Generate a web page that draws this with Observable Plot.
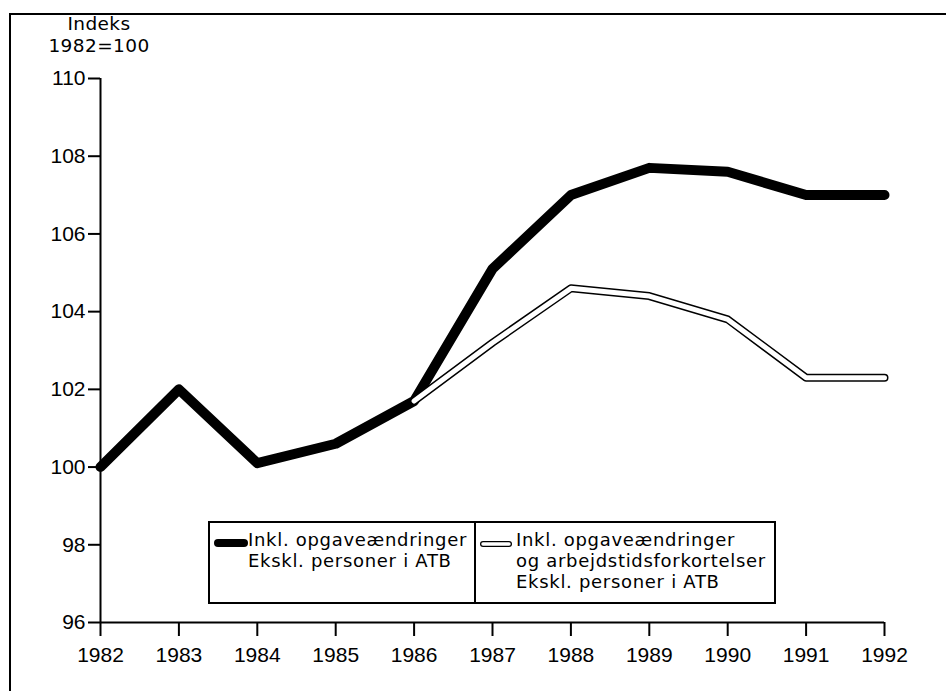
<!DOCTYPE html>
<html><head><meta charset="utf-8">
<script src="https://cdn.jsdelivr.net/npm/d3@7"></script>
<script src="https://cdn.jsdelivr.net/npm/@observablehq/plot@0.6"></script>
<style>
body{margin:0;background:#fff;}
#wrap{position:relative;width:946px;height:691px;overflow:hidden;font-family:"Liberation Sans",Arial,sans-serif;color:#000;}
#frame{position:absolute;left:9px;top:13px;width:2000px;height:2000px;border-left:2px solid #000;border-top:2px solid #000;}
#chart{position:absolute;left:0;top:0;}
.title{position:absolute;width:160px;left:19px;text-align:center;font-family:"DejaVu Sans",sans-serif;font-size:18.5px;line-height:22px;height:22px;letter-spacing:0.4px;}
#legend{position:absolute;left:208px;top:521px;width:564px;height:79px;border:2px solid #000;background:#fff;font-family:"DejaVu Sans",sans-serif;font-size:18px;line-height:21px;letter-spacing:0.7px;}
#legend .div{position:absolute;left:264px;top:0;width:2px;height:79px;background:#000;}
#legend .t{position:absolute;white-space:nowrap;}
#legend svg{position:absolute;}
</style></head>
<body>
<div id="wrap">
  <div id="frame"></div>
  <div id="chart"></div>
  <div class="title" id="t1" style="top:13px"></div>
  <div class="title" id="t2" style="top:35px"></div>
  <div id="legend"></div>
</div>
<script>
const years = [1982,1983,1984,1985,1986,1987,1988,1989,1990,1991,1992];
const inklOpgave = [100.0,102.0,100.1,100.6,101.7,105.1,107.0,107.7,107.6,107.0,107.0];
const hollowYears = [1986,1987,1988,1989,1990,1991,1992];
const inklArbejdstid = [101.7,103.2,104.6,104.4,103.8,102.3,102.3];
const yTicks = [96,98,100,102,104,106,108,110];
const titleLines = ["Indeks","1982=100"];
const seriesNames = [["Inkl. opgaveændringer","Ekskl. personer i ATB"],["Inkl. opgaveændringer","og arbejdstidsforkortelser","Ekskl. personer i ATB"]];

const thickData = years.map((y,i)=>({year:y,value:inklOpgave[i]}));
const hollowData = hollowYears.map((y,i)=>({year:y,value:inklArbejdstid[i]}));

const chart = Plot.plot({
  width: 946, height: 691,
  marginLeft: 100, marginRight: 62, marginTop: 78, marginBottom: 69,
  style: {fontFamily: "Liberation Sans, Arial, sans-serif", fontSize: "21px", color: "#000", background: "transparent"},
  x: {domain: [1982,1992]},
  y: {domain: [96,110]},
  marks: [
    Plot.ruleX([1982], {y1: 96, y2: 110, stroke: "#000", strokeWidth: 2}),
    Plot.ruleY([96], {x1: 1982, x2: 1992, stroke: "#000", strokeWidth: 2}),
    Plot.axisY(yTicks, {tickSize: 12, tickPadding: 3, tickFormat: d => String(d), strokeWidth: 2, fontSize: 21, label: null}),
    Plot.axisX(years, {tickSize: 14, tickPadding: 11, tickFormat: d => String(d), strokeWidth: 2, fontSize: 21, label: null}),
    Plot.line(thickData, {x: "year", y: "value", stroke: "#000", strokeWidth: 10, strokeLinejoin: "round"}),
    Plot.line(hollowData, {x: "year", y: "value", stroke: "#000", strokeWidth: 8, strokeLinecap: "round", strokeLinejoin: "round"}),
    Plot.line(hollowData, {x: "year", y: "value", stroke: "#fff", strokeWidth: 5, strokeLinecap: "round", strokeLinejoin: "round"})
  ]
});
document.getElementById("chart").append(chart);
document.getElementById("t1").textContent = titleLines[0];
document.getElementById("t2").textContent = titleLines[1];

const lg = document.getElementById("legend");
lg.innerHTML = `<div class="div"></div>
<svg style="left:3px;top:13px" width="36" height="14"><line x1="5" y1="7" x2="31" y2="7" stroke="#000" stroke-width="8" stroke-linecap="round"/></svg>
<svg style="left:268px;top:14px" width="36" height="14"><line x1="5" y1="7" x2="31" y2="7" stroke="#000" stroke-width="6" stroke-linecap="round"/><line x1="5" y1="7" x2="31" y2="7" stroke="#fff" stroke-width="3.5" stroke-linecap="round"/></svg>`;
seriesNames[0].forEach((s,i)=>{const d=document.createElement("div");d.className="t";d.style.left="38px";d.style.top=(6+i*21)+"px";d.textContent=s;lg.append(d);});
seriesNames[1].forEach((s,i)=>{const d=document.createElement("div");d.className="t";d.style.left="306px";d.style.top=(6+i*21)+"px";d.textContent=s;lg.append(d);});
</script>
</body></html>
